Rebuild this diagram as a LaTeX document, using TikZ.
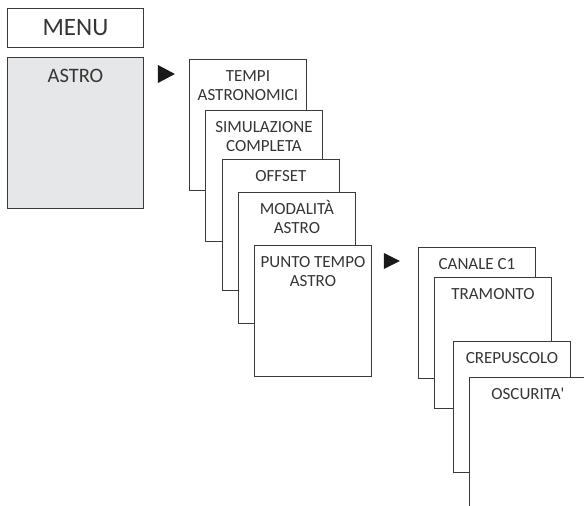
\documentclass[tikz,border=0pt]{standalone}
\usepackage{fontspec}
\setmainfont{Carlito}
\usetikzlibrary{calc}
\definecolor{menugray}{HTML}{E6E7E8}
\definecolor{framegray}{HTML}{3A3A3A}
\definecolor{textgray}{HTML}{353535}
% text block of a sub-menu card: first baseline 22pt below the top edge
\newcommand{\cardtext}[1]{\parbox[t][131pt][t]{117pt}{\centering\rule{0pt}{22pt}#1}}
\begin{document}
\begin{tikzpicture}[x=1pt, y=-1pt,
    frame/.style={draw=framegray, line width=0.9pt, text=textgray, anchor=north west, inner sep=0pt},
    card/.style={frame, fill=white, font=\fontsize{17}{19.5}\selectfont},
    goarrow/.style={fill=black!90}]
    \useasboundingbox (0,0) rectangle (584,506);
    \clip (0,0) rectangle (584,506);

    % Main menu
    \node[frame, minimum width=136pt, minimum height=39pt, font=\fontsize{25}{28}\selectfont] (menu) at (7,8) {MENU};
    \node[frame, fill=menugray, font=\fontsize{20.5}{24}\selectfont] (astro) at (7,57)
        {\parbox[t][151pt][t]{136pt}{\centering\rule{0pt}{25pt}ASTRO}};

    % First level: astro sub-menus
    \node[card] (tempi) at (189,59)  {\cardtext{TEMPI\\ASTRONOMICI}};
    \node[card] (simul) at (205,110) {\cardtext{SIMULAZIONE\\COMPLETA}};
    \node[card] (offs)  at (222,159) {\cardtext{OFFSET}};
    \node[card] (modal) at (238,192) {\cardtext{MODALITÀ\\ASTRO}};
    \node[card] (punto) at (254,245) {\cardtext{PUNTO TEMPO\\ASTRO}};

    % Second level: astro time point
    \node[card] (canale) at (418,247) {\cardtext{CANALE C1}};
    \node[card] (tram)   at (434,277) {\cardtext{TRAMONTO}};
    \node[card] (crep)   at (453,341) {\cardtext{CREPUSCOLO}};
    \node[card] (oscur)  at (469,377) {\cardtext{OSCURITA\textquotesingle}};

    % Arrows into the sub-menus
    \fill[goarrow] ($(astro.north east)+(14,8)$) -- ++(0,18) -- ++(17,-9) -- cycle;
    \fill[goarrow] ($(punto.north east)+(12,8)$) -- ++(0,16) -- ++(16,-8) -- cycle;
\end{tikzpicture}
\end{document}
